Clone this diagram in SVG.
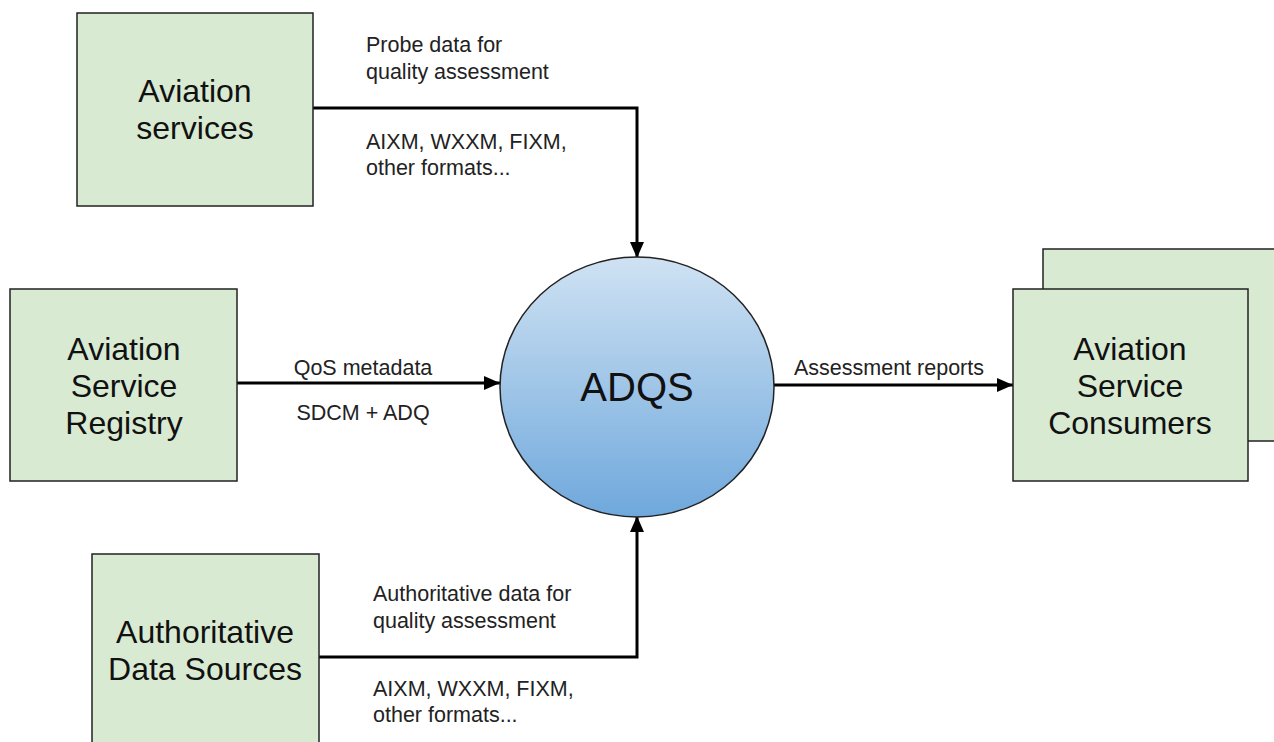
<svg xmlns="http://www.w3.org/2000/svg" width="1274" height="742" viewBox="0 0 1274 742">
<defs>
<linearGradient id="g" x1="0" y1="0" x2="0" y2="1">
<stop offset="0" stop-color="#cfe2f3"/>
<stop offset="1" stop-color="#6fa8dc"/>
</linearGradient>
<marker id="ah" markerWidth="16" markerHeight="14" refX="16" refY="7" orient="auto" markerUnits="userSpaceOnUse">
<path d="M0,0 L16,7 L0,14 Z" fill="#000"/>
</marker>
<style>
.box{fill:#d9ead3;stroke:#222;stroke-width:1.5}
.big{font-family:"Liberation Sans",Arial,sans-serif;font-size:32px;fill:#111;text-anchor:middle}
.lbl{font-family:"Liberation Sans",Arial,sans-serif;font-size:21.5px;fill:#222}
.con{fill:none;stroke:#000;stroke-width:3;marker-end:url(#ah)}
</style>
</defs>
<rect width="1274" height="742" fill="#fff"/>
<g id="connectors">
<path class="con" d="M313,108 H637 V258"/>
<path class="con" d="M237,383 H500"/>
<path class="con" d="M774,385 H1013"/>
<path class="con" d="M319,657 H637 V516"/>
<text class="lbl" x="366" y="52">Probe data for</text>
<text class="lbl" x="366" y="79">quality assessment</text>
<text class="lbl" x="366" y="149">AIXM, WXXM, FIXM,</text>
<text class="lbl" x="366" y="175">other formats...</text>
<text class="lbl" x="363" y="375" text-anchor="middle">QoS metadata</text>
<text class="lbl" x="363" y="420" text-anchor="middle">SDCM + ADQ</text>
<text class="lbl" x="889" y="375" text-anchor="middle">Assessment reports</text>
<text class="lbl" x="373" y="601">Authoritative data for</text>
<text class="lbl" x="373" y="628">quality assessment</text>
<text class="lbl" x="373" y="696">AIXM, WXXM, FIXM,</text>
<text class="lbl" x="373" y="722">other formats...</text>
</g>
<g id="aviation-services">
<rect class="box" x="77" y="13" width="236" height="193"/>
<text class="big" x="195" y="102">Aviation</text>
<text class="big" x="195" y="139">services</text>
</g>
<g id="registry">
<rect class="box" x="10" y="289" width="227" height="192"/>
<text class="big" x="124" y="360">Aviation</text>
<text class="big" x="124" y="397">Service</text>
<text class="big" x="124" y="434">Registry</text>
</g>
<g id="adqs">
<ellipse cx="637" cy="387" rx="137" ry="130" fill="url(#g)" stroke="#222" stroke-width="1.5"/>
<text x="637" y="401" font-family="Liberation Sans, Arial, sans-serif" font-size="40" fill="#111" text-anchor="middle">ADQS</text>
</g>
<g id="consumers">
<rect class="box" x="1043" y="249" width="240" height="192"/>
<rect class="box" x="1013" y="289" width="235" height="192"/>
<text class="big" x="1130" y="360">Aviation</text>
<text class="big" x="1130" y="397">Service</text>
<text class="big" x="1130" y="434">Consumers</text>
</g>
<g id="authoritative">
<rect class="box" x="92" y="554" width="227" height="200"/>
<text class="big" x="205" y="643">Authoritative</text>
<text class="big" x="205" y="680">Data Sources</text>
</g>
</svg>
